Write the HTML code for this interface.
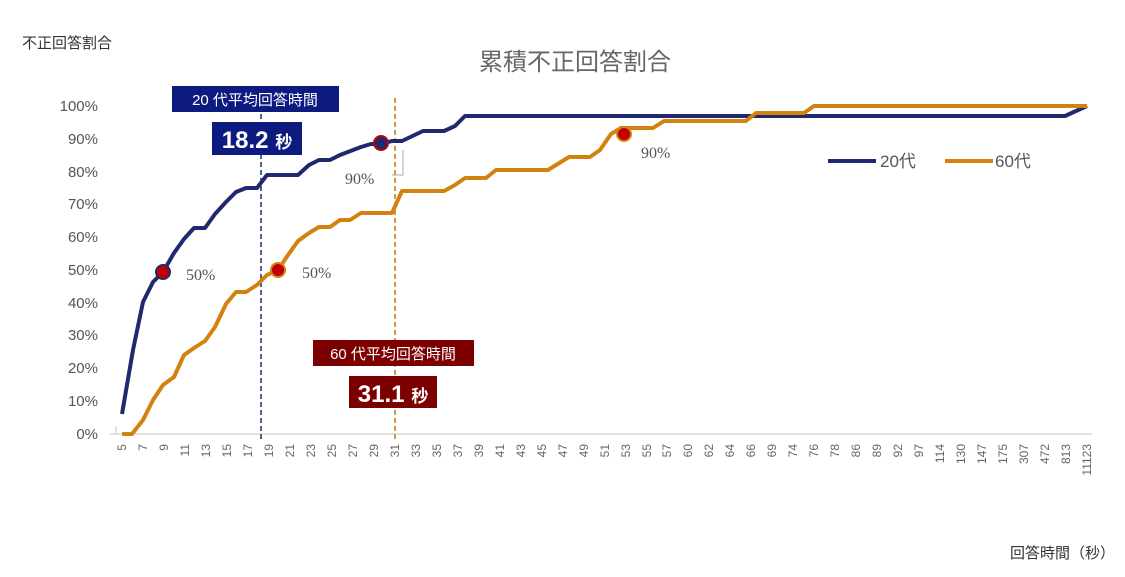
<!DOCTYPE html>
<html><head><meta charset="utf-8"><style>
body{margin:0;width:1125px;height:572px;background:#fff;overflow:hidden;font-family:"Liberation Sans","Noto Sans CJK JP",sans-serif}
</style></head><body>
<svg width="1125" height="572" xmlns="http://www.w3.org/2000/svg" font-family="Liberation Sans, Noto Sans CJK JP, sans-serif">
<text x="22" y="48" font-size="15" fill="#333">不正回答割合</text>
<text x="575" y="70" font-size="24" fill="#666" text-anchor="middle">累積不正回答割合</text>
<text x="1010" y="558" font-size="15" fill="#333">回答時間（秒）</text>
<g font-size="15" fill="#555" text-anchor="end">
<text x="98" y="111">100%</text><text x="98" y="144">90%</text><text x="98" y="177">80%</text><text x="98" y="209">70%</text><text x="98" y="242">60%</text><text x="98" y="275">50%</text><text x="98" y="308">40%</text><text x="98" y="340">30%</text><text x="98" y="373">20%</text><text x="98" y="406">10%</text><text x="98" y="439">0%</text>
</g>
<line x1="110" y1="434" x2="1092" y2="434" stroke="#d9d9d9" stroke-width="1.5"/>
<line x1="116" y1="426" x2="116" y2="434" stroke="#d9d9d9" stroke-width="1.5"/>
<g font-size="12" fill="#666" text-anchor="end">
<text transform="translate(126,444) rotate(-90)">5</text>
<text transform="translate(147,444) rotate(-90)">7</text>
<text transform="translate(168,444) rotate(-90)">9</text>
<text transform="translate(189,444) rotate(-90)">11</text>
<text transform="translate(210,444) rotate(-90)">13</text>
<text transform="translate(231,444) rotate(-90)">15</text>
<text transform="translate(252,444) rotate(-90)">17</text>
<text transform="translate(273,444) rotate(-90)">19</text>
<text transform="translate(294,444) rotate(-90)">21</text>
<text transform="translate(315,444) rotate(-90)">23</text>
<text transform="translate(336,444) rotate(-90)">25</text>
<text transform="translate(357,444) rotate(-90)">27</text>
<text transform="translate(378,444) rotate(-90)">29</text>
<text transform="translate(399,444) rotate(-90)">31</text>
<text transform="translate(420,444) rotate(-90)">33</text>
<text transform="translate(441,444) rotate(-90)">35</text>
<text transform="translate(462,444) rotate(-90)">37</text>
<text transform="translate(483,444) rotate(-90)">39</text>
<text transform="translate(504,444) rotate(-90)">41</text>
<text transform="translate(525,444) rotate(-90)">43</text>
<text transform="translate(546,444) rotate(-90)">45</text>
<text transform="translate(567,444) rotate(-90)">47</text>
<text transform="translate(588,444) rotate(-90)">49</text>
<text transform="translate(609,444) rotate(-90)">51</text>
<text transform="translate(630,444) rotate(-90)">53</text>
<text transform="translate(651,444) rotate(-90)">55</text>
<text transform="translate(671,444) rotate(-90)">57</text>
<text transform="translate(692,444) rotate(-90)">60</text>
<text transform="translate(713,444) rotate(-90)">62</text>
<text transform="translate(734,444) rotate(-90)">64</text>
<text transform="translate(755,444) rotate(-90)">66</text>
<text transform="translate(776,444) rotate(-90)">69</text>
<text transform="translate(797,444) rotate(-90)">74</text>
<text transform="translate(818,444) rotate(-90)">76</text>
<text transform="translate(839,444) rotate(-90)">78</text>
<text transform="translate(860,444) rotate(-90)">86</text>
<text transform="translate(881,444) rotate(-90)">89</text>
<text transform="translate(902,444) rotate(-90)">92</text>
<text transform="translate(923,444) rotate(-90)">97</text>
<text transform="translate(944,444) rotate(-90)">114</text>
<text transform="translate(965,444) rotate(-90)">130</text>
<text transform="translate(986,444) rotate(-90)">147</text>
<text transform="translate(1007,444) rotate(-90)">175</text>
<text transform="translate(1028,444) rotate(-90)">307</text>
<text transform="translate(1049,444) rotate(-90)">472</text>
<text transform="translate(1070,444) rotate(-90)">813</text>
<text transform="translate(1091,444) rotate(-90)">11123</text>
</g>
<line x1="261" y1="90" x2="261" y2="442" stroke="#1f2a6e" stroke-width="1.5" stroke-dasharray="5,3"/>
<line x1="395" y1="98" x2="395" y2="442" stroke="#c8780a" stroke-width="1.5" stroke-dasharray="5,3"/>
<polyline fill="none" stroke="#1f2a6e" stroke-width="4" stroke-linejoin="round" points="122,414 133,350 143,302 153,282 163,272 174,253 184,239 194,228 205,228 215,214 226,202 236,192 246,188 257,188 267,175 298,175 309,165 319,160 330,160 340,155 361,147 371,144 381,144 392,141 402,141 423,131 444,131 455,126 465,116 1065,116 1087,106"/>
<polyline fill="none" stroke="#d4820f" stroke-width="4" stroke-linejoin="round" points="122,434 132,434 143,420 153,400 163,385 174,377 184,355 194,348 205,341 215,327 226,304 236,292 246,292 257,285 267,275 278,270 288,255 298,241 309,233 319,227 330,227 340,220 350,220 361,213 392,213 402,191 444,191 455,185 465,178 486,178 496,170 548,170 569,157 590,157 600,150 611,134 621,128 653,128 664,121 746,121 756,113 804,113 814,106 1087,106"/>
<circle cx="163" cy="272" r="7" fill="#c00000" stroke="#1f2a6e" stroke-width="2"/>
<circle cx="278" cy="270" r="7" fill="#c00000" stroke="#d4820f" stroke-width="2"/>
<circle cx="381" cy="143" r="7" fill="#1f2a6e" stroke="#c00000" stroke-width="2"/>
<circle cx="624" cy="134" r="7" fill="#c00000" stroke="#d4820f" stroke-width="2"/>
<polyline points="392,175 403,175 403,150" fill="none" stroke="#aaa" stroke-width="1"/>
<g font-size="16" fill="#555" font-family="Liberation Serif, serif">
<text x="186" y="280">50%</text><text x="302" y="278">50%</text><text x="345" y="184">90%</text><text x="641" y="158">90%</text>
</g>
<rect x="172" y="86" width="167" height="26" fill="#0d1a80"/>
<text x="255" y="105" font-size="15" fill="#fff" text-anchor="middle">20 代平均回答時間</text>
<rect x="212" y="122" width="90" height="33" fill="#0d1a80"/>
<text x="257" y="148" font-size="24" font-weight="bold" fill="#fff" text-anchor="middle">18.2 <tspan font-size="17">秒</tspan></text>
<rect x="313" y="340" width="161" height="26" fill="#7d0000"/>
<text x="393" y="359" font-size="15" fill="#fff" text-anchor="middle">60 代平均回答時間</text>
<rect x="349" y="376" width="88" height="32" fill="#7d0000"/>
<text x="393" y="402" font-size="24" font-weight="bold" fill="#fff" text-anchor="middle">31.1 <tspan font-size="17">秒</tspan></text>
<line x1="828" y1="161" x2="876" y2="161" stroke="#1f2a6e" stroke-width="4"/>
<text x="880" y="167" font-size="17" fill="#555">20代</text>
<line x1="945" y1="161" x2="993" y2="161" stroke="#d4820f" stroke-width="4"/>
<text x="995" y="167" font-size="17" fill="#555">60代</text>
</svg>
</body></html>
